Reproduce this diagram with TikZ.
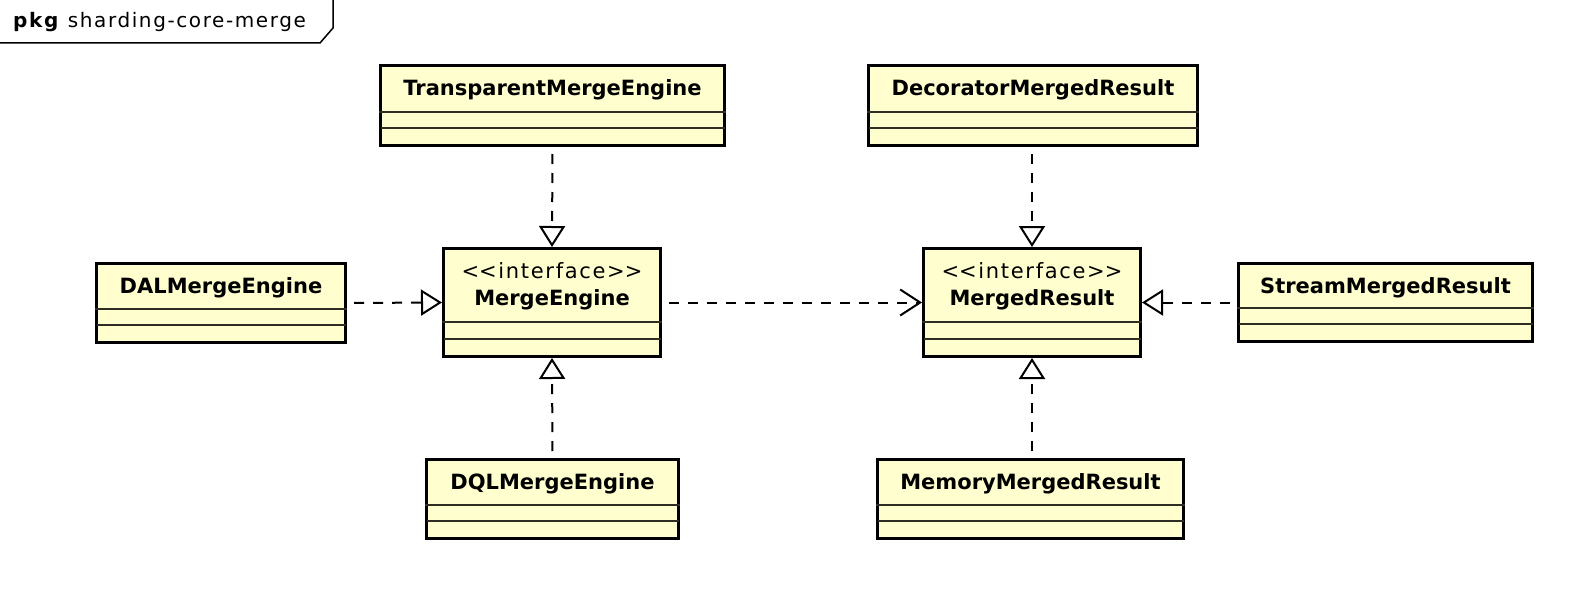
\documentclass[tikz,border=0pt]{standalone}
\usepackage{fontspec}
\setmainfont{DejaVu Sans}
\usetikzlibrary{
    arrows.meta,
    positioning
}
\definecolor{classfill}{RGB}{254,254,206}
\definecolor{sepcol}{RGB}{45,45,35}
\tikzset{
    classbox/.style={
        draw,
        rectangle,
        line width=3pt,
        fill=classfill,
        inner sep=0pt
    },
    classname/.style={
        font=\fontsize{21pt}{25pt}\selectfont\bfseries,
        anchor=base,
        inner sep=0pt
    },
    stereo/.style={
        font=\fontsize{21pt}{25pt}\selectfont\addfontfeature{LetterSpace=8},
        anchor=base,
        inner sep=0pt
    },
    sepline/.style={
        line width=2pt,
        draw=sepcol,
        shorten <=1.5pt,
        shorten >=1.5pt
    },
    realize/.style={
        line width=2pt,
        dash pattern=on 10pt off 9pt,
        shorten <=7pt,
        -{Triangle[open, length=21pt, width=26pt]}
    },
    depend/.style={
        line width=2pt,
        dash pattern=on 10pt off 9pt,
        shorten <=7pt,
        -{Straight Barb[length=20pt, width=26pt]}
    }
}

\begin{document}
\begin{tikzpicture}[x=1pt,y=-1pt]
\useasboundingbox (0,0) rectangle (1588,594);
% package tab
\draw[line width=1.5pt] (0,43) -- (320,43) -- (333,28) -- (333,0);
\node[anchor=base west, inner sep=0pt, font=\fontsize{20pt}{24pt}\selectfont\addfontfeature{LetterSpace=8}] (pkg) at (13,28) {\textbf{pkg} sharding-core-merge};

% classes
\node[classbox, minimum width=344pt, minimum height=80pt] (tme) at (552.5,105.5) {};
\node[classname] (tme-n) at ([yshift=-31.5pt]tme.north) {TransparentMergeEngine};
\draw[sepline] ([yshift=35.5pt]tme.south west) -- ([yshift=35.5pt]tme.south east)
               ([yshift=19.5pt]tme.south west) -- ([yshift=19.5pt]tme.south east);

\node[classbox, minimum width=329pt, minimum height=80pt] (dmr) at (1033,105.5) {};
\node[classname] (dmr-n) at ([yshift=-31.5pt]dmr.north) {DecoratorMergedResult};
\draw[sepline] ([yshift=35.5pt]dmr.south west) -- ([yshift=35.5pt]dmr.south east)
               ([yshift=19.5pt]dmr.south west) -- ([yshift=19.5pt]dmr.south east);

\node[classbox, minimum width=249pt, minimum height=79pt] (dal) at (221,303) {};
\node[classname] (dal-n) at ([yshift=-31.5pt]dal.north) {DALMergeEngine};
\draw[sepline] ([yshift=35.5pt]dal.south west) -- ([yshift=35.5pt]dal.south east)
               ([yshift=19.5pt]dal.south west) -- ([yshift=19.5pt]dal.south east);

\node[classbox, minimum width=217pt, minimum height=108pt] (me) at (552,302.5) {};
\node[stereo] (me-s) at ([yshift=-31.5pt]me.north) {<\kern0pt<interface>\kern0pt>};
\node[classname] (me-n) at ([yshift=-58.5pt]me.north) {MergeEngine};
\draw[sepline] ([yshift=36.5pt]me.south west) -- ([yshift=36.5pt]me.south east)
               ([yshift=19.5pt]me.south west) -- ([yshift=19.5pt]me.south east);

\node[classbox, minimum width=217pt, minimum height=108pt] (mr) at (1032,302.5) {};
\node[stereo] (mr-s) at ([yshift=-31.5pt]mr.north) {<\kern0pt<interface>\kern0pt>};
\node[classname] (mr-n) at ([yshift=-58.5pt]mr.north) {MergedResult};
\draw[sepline] ([yshift=36.5pt]mr.south west) -- ([yshift=36.5pt]mr.south east)
               ([yshift=19.5pt]mr.south west) -- ([yshift=19.5pt]mr.south east);

\node[classbox, minimum width=294pt, minimum height=78pt] (smr) at (1385.5,302.5) {};
\node[classname] (smr-n) at ([yshift=-31.5pt]smr.north) {StreamMergedResult};
\draw[sepline] ([yshift=35.5pt]smr.south west) -- ([yshift=35.5pt]smr.south east)
               ([yshift=19.5pt]smr.south west) -- ([yshift=19.5pt]smr.south east);

\node[classbox, minimum width=252pt, minimum height=79pt] (dql) at (552.5,499) {};
\node[classname] (dql-n) at ([yshift=-31.5pt]dql.north) {DQLMergeEngine};
\draw[sepline] ([yshift=35.5pt]dql.south west) -- ([yshift=35.5pt]dql.south east)
               ([yshift=19.5pt]dql.south west) -- ([yshift=19.5pt]dql.south east);

\node[classbox, minimum width=306pt, minimum height=79pt] (mmr) at (1030.5,499) {};
\node[classname] (mmr-n) at ([yshift=-31.5pt]mmr.north) {MemoryMergedResult};
\draw[sepline] ([yshift=35.5pt]mmr.south west) -- ([yshift=35.5pt]mmr.south east)
               ([yshift=19.5pt]mmr.south west) -- ([yshift=19.5pt]mmr.south east);

% relations
\draw[realize] (tme.south) -- (me.north);
\draw[realize] (dql.north) -- (me.south);
\draw[realize] (dal.east) -- (me.west);
\draw[depend] (me.east) -- (mr.west);
\draw[realize] (dmr.south -| mr.north) -- (mr.north);
\draw[realize] (mmr.north -| mr.south) -- (mr.south);
\draw[realize] (smr.west) -- (mr.east);
\end{tikzpicture}
\end{document}
